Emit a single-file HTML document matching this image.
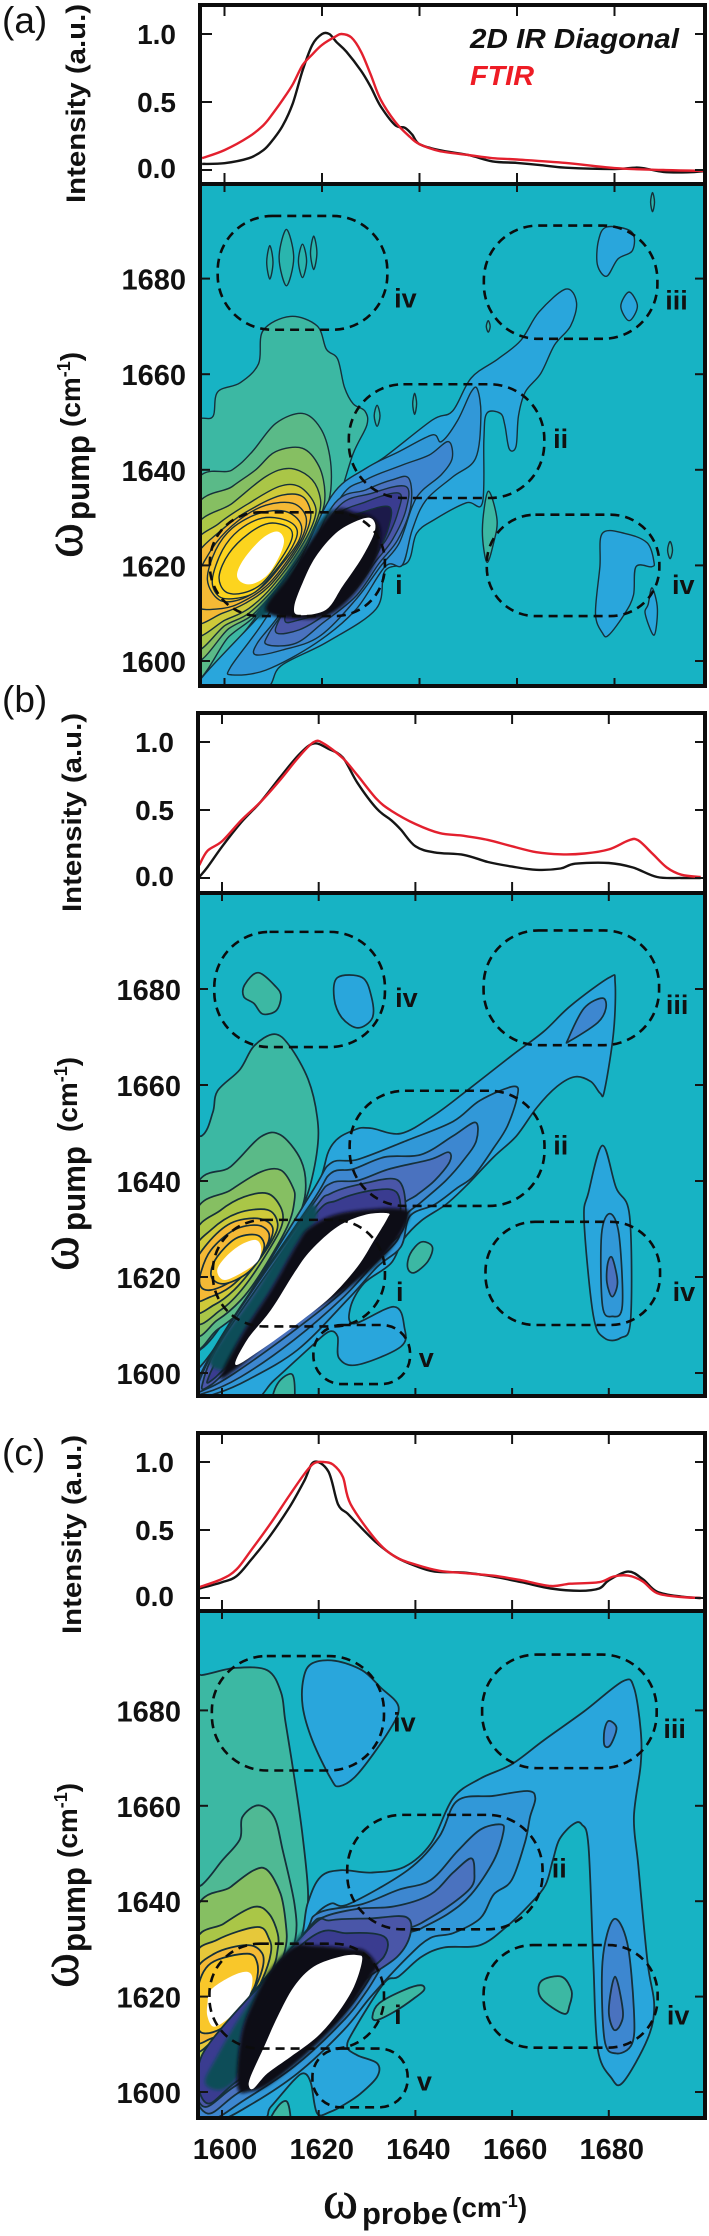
<!DOCTYPE html>
<html lang="en">
<head>
<meta charset="utf-8">
<title>2D IR and FTIR spectra</title>
<style>
html,body{margin:0;padding:0;background:#fff}
svg{display:block}
text{font-family:"Liberation Sans",sans-serif;fill:#111}
.b{font-weight:700}
.o{font-family:"Liberation Serif",serif;stroke:#111;stroke-width:.5}
</style>
</head>
<body>
<svg id="fig" xmlns="http://www.w3.org/2000/svg" width="709" height="2236" viewBox="0 0 709 2236">
<defs><filter id="soft" x="-10%" y="-10%" width="120%" height="120%"><feGaussianBlur stdDeviation="1.7"/></filter></defs>
<rect x="0" y="0" width="709" height="2236" fill="#fff"/>
<g id="panels"></g>

<text x="2" y="33" font-size="37">(a)</text>
<text x="2" y="712" font-size="37">(b)</text>
<text x="2" y="1465" font-size="37">(c)</text>

<text class="b" transform="translate(85,203) rotate(-90)" font-size="27" textLength="199" lengthAdjust="spacingAndGlyphs">Intensity (a.u.)</text>
<text class="b" transform="translate(81,912) rotate(-90)" font-size="27" textLength="199" lengthAdjust="spacingAndGlyphs">Intensity (a.u.)</text>
<text class="b" transform="translate(81,1634) rotate(-90)" font-size="27" textLength="199" lengthAdjust="spacingAndGlyphs">Intensity (a.u.)</text>

<g>
<text class="o" transform="translate(82,558) rotate(-90)" font-size="56" textLength="35" lengthAdjust="spacingAndGlyphs">ω</text>
<text class="b" transform="translate(89,520) rotate(-90)" font-size="32" textLength="85" lengthAdjust="spacingAndGlyphs">pump</text>
<text class="b" transform="translate(80,427) rotate(-90)" font-size="28">(cm<tspan dy="-10" font-size="18">-1</tspan><tspan dy="10">)</tspan></text>
</g>
<g>
<text class="o" transform="translate(78,1271) rotate(-90)" font-size="56" textLength="35" lengthAdjust="spacingAndGlyphs">ω</text>
<text class="b" transform="translate(85,1231) rotate(-90)" font-size="32" textLength="85" lengthAdjust="spacingAndGlyphs">pump</text>
<text class="b" transform="translate(77,1132) rotate(-90)" font-size="28">(cm<tspan dy="-10" font-size="18">-1</tspan><tspan dy="10">)</tspan></text>
</g>
<g>
<text class="o" transform="translate(78,1988) rotate(-90)" font-size="56" textLength="35" lengthAdjust="spacingAndGlyphs">ω</text>
<text class="b" transform="translate(85,1952) rotate(-90)" font-size="32" textLength="85" lengthAdjust="spacingAndGlyphs">pump</text>
<text class="b" transform="translate(77,1858) rotate(-90)" font-size="28">(cm<tspan dy="-10" font-size="18">-1</tspan><tspan dy="10">)</tspan></text>
</g>

<g>
<text class="o" x="323" y="2218" font-size="54" textLength="35" lengthAdjust="spacingAndGlyphs">ω</text>
<text class="b" x="362" y="2224" font-size="31" textLength="86" lengthAdjust="spacingAndGlyphs">probe</text>
<text class="b" x="452" y="2217" font-size="28">(cm<tspan dy="-10" font-size="18">-1</tspan><tspan dy="10">)</tspan></text>
</g>

<g>
<text class="b" x="470" y="48" font-size="28" font-style="italic" textLength="209" lengthAdjust="spacingAndGlyphs">2D IR Diagonal</text>
<text class="b" x="470" y="85" font-size="28" font-style="italic" style="fill:#ee1c25" textLength="64" lengthAdjust="spacingAndGlyphs">FTIR</text>
</g>
</svg>

<script>
/* ---------- axis values ---------- */
const probeTicks = [1600, 1620, 1640, 1660, 1680];
const pumpTicks = [1600, 1620, 1640, 1660, 1680];
const intensityTicks = [0, 0.5, 1];
const intensityTickLabels = ['0.0', '0.5', '1.0'];

/* ---------- 1D spectra: panel a ---------- */
const aDiagProbe = [1595.4,1600,1605,1608,1610,1612,1614,1616,1618,1620,1621.5,1623,1625,1628,1630,1632,1635,1637,1638.5,1640,1644,1650,1655,1660,1665,1670,1680,1685,1690,1695,1699];
const aDiagIntensity = [.045,.05,.087,.146,.226,.33,.49,.73,.92,1,1,.94,.87,.73,.61,.47,.33,.31,.26,.19,.146,.11,.063,.052,.035,.017,.007,.017,-.014,-.017,-.007];
const aFtirProbe = [1595.4,1600,1605,1608,1610,1612,1614,1616,1618,1620,1622.7,1624,1626,1628,1630,1632,1635,1638,1640,1644,1650,1655,1660,1670,1680,1690,1699];
const aFtirIntensity = [.087,.146,.244,.33,.42,.52,.63,.77,.85,.92,.98,1,.975,.87,.7,.52,.355,.244,.19,.14,.11,.087,.077,.052,.014,0,-.007];

/* ---------- 1D spectra: panel b ---------- */
const bDiagProbe = [1595.3,1597,1600,1604,1608,1612,1616,1619,1622,1625,1628,1632,1635,1637,1640,1644,1650,1655,1660,1665,1670,1673,1680,1685,1690,1695,1699];
const bDiagIntensity = [.007,.08,.23,.41,.56,.74,.91,.99,.95,.885,.7,.51,.425,.355,.233,.188,.17,.118,.084,.06,.07,.105,.11,.077,.007,0,0];
const bFtirProbe = [1595.3,1597,1600,1604,1608,1612,1616,1619,1621,1625,1628,1632,1635,1640,1645,1650,1655,1660,1665,1670,1675,1680,1684,1686,1689,1692,1695,1699];
const bFtirIntensity = [.094,.2,.27,.425,.56,.72,.895,1,.99,.88,.756,.58,.495,.397,.33,.31,.28,.233,.19,.174,.18,.21,.275,.279,.18,.077,.024,.007];

/* ---------- 1D spectra: panel c ---------- */
const cDiagProbe = [1595.3,1600,1603,1606,1610,1614,1617,1619,1622,1624,1626,1628,1632,1636,1640,1644,1650,1656,1662,1668,1674,1678,1680,1684,1687,1690,1695,1699];
const cDiagIntensity = [.07,.116,.16,.28,.46,.67,.86,1,.93,.69,.62,.546,.405,.3,.236,.194,.187,.158,.116,.07,.053,.07,.13,.194,.14,.046,.01,0];
const cFtirProbe = [1595.3,1600,1603,1606,1610,1614,1617,1619,1621,1623,1625,1626.6,1632,1636,1640,1645,1650,1656,1662,1668,1672,1678,1681,1684,1687,1690,1695,1699];
const cFtirIntensity = [.08,.14,.21,.35,.546,.757,.91,.99,1,.98,.89,.69,.42,.3,.246,.2,.183,.165,.13,.088,.105,.116,.158,.165,.123,.035,.007,0];

/* ---------- 2D contours: level name + [probe, pump] vertices, in cm-1 ---------- */
const aContours = [
 ['g1',[[1590,1651],[1595.4,1650.8],[1597.7,1651.3],[1598.6,1656.3],[1603.2,1658.2],[1607,1662.2],[1607.9,1669.1],[1613.5,1672.1],[1619,1670.1],[1620.9,1665.2],[1623.2,1663.2],[1624.6,1657.3],[1626.4,1653.8],[1628.8,1652.3],[1629.2,1649.4],[1626.4,1643.4],[1623.2,1633.6],[1619.5,1628.6],[1612,1619],[1606,1608.6],[1595.5,1596.7],[1590,1597]]],
 ['g2',[[1593.4,1635.1],[1601.6,1640],[1605.7,1643.8],[1610.5,1649.7],[1616,1651.8],[1619.7,1648.7],[1621.6,1642.8],[1621.8,1635.8],[1620.4,1630.9],[1617.3,1625.3],[1611.9,1617],[1606.4,1609.6],[1600.9,1605.1],[1593.4,1597.4]]],
 ['g3',[[1593.4,1630.2],[1601.6,1636.5],[1606.4,1640],[1610.5,1643.8],[1616,1644.5],[1619.4,1640.7],[1620.6,1635.1],[1619.7,1630.2],[1616,1622.5],[1610.5,1614.9],[1605.7,1609.6],[1600.9,1606.8],[1593.4,1600.9]]],
 ['g4',[[1593.4,1626.4],[1601.6,1633],[1608.5,1638.6],[1613.2,1640.3],[1617.3,1638.6],[1619.4,1635.1],[1619.4,1630.9],[1616,1623.2],[1610.5,1615.6],[1605,1610],[1600.2,1607.5],[1593.4,1603]]],
 ['g5',[[1593.4,1623.2],[1598.9,1628.8],[1605,1633],[1611.2,1636.5],[1615.3,1636.5],[1618.4,1633],[1618.4,1629.5],[1615.3,1623.2],[1609.8,1615.6],[1605,1611],[1600.2,1608.6],[1593.4,1605.8]]],
 ['g7',[[1593.4,1620.5],[1600.2,1628.1],[1606.4,1632.3],[1611.9,1634.7],[1616,1634.4],[1617.7,1630.9],[1616.7,1626.7],[1613.9,1621.8],[1609.1,1615.6],[1604.3,1612.1],[1599.6,1610],[1593.4,1608.2]]],
 ['g7',[[1594.1,1617],[1598.2,1624.6],[1603,1629.5],[1608.5,1632.6],[1614,1633],[1616.7,1630.2],[1616,1626],[1612.5,1620.4],[1608.5,1615.6],[1603.7,1612.4],[1599.6,1611],[1594.1,1611.4]]],
 ['g8',[[1596.5,1617],[1598.2,1623.2],[1601.6,1627.8],[1607.1,1630.9],[1612.5,1631.3],[1615.6,1628.8],[1615.3,1625.3],[1611.9,1620.4],[1607.8,1615.6],[1603,1612.8],[1598.9,1612.8]]],
 ['g9',[[1597.5,1617],[1599.6,1623.2],[1603,1627.4],[1607.8,1629.9],[1612.5,1629.5],[1614.9,1627.4],[1613.9,1623.9],[1610.5,1619],[1606.4,1614.5],[1602.3,1613.1],[1598.9,1613.5]]],
 ['g9',[[1598.9,1617.7],[1600.9,1622.5],[1605,1626.7],[1609.1,1628.8],[1612.9,1628.1],[1613.9,1626],[1611.9,1621.8],[1607.8,1616.3],[1603.7,1614.2],[1600.2,1614.5]]],
 ['w',[[1602.6,1618.4],[1604.3,1621.8],[1607.8,1625.7],[1610.8,1627.1],[1612.2,1625.3],[1611.2,1621.8],[1608.8,1618],[1605.7,1616.1],[1603.3,1616.6]]],
 ['b1',[[1670,1677.8],[1672.2,1675],[1671,1670.1],[1667.7,1666.1],[1664.9,1660.2],[1661.7,1656.3],[1660.3,1651.3],[1659.8,1644.9],[1658.4,1644.4],[1657.5,1649.4],[1656.6,1651.8],[1653.8,1651.8],[1653.2,1646.4],[1652.9,1633.1],[1649.6,1633.1],[1643.1,1629.6],[1639.4,1626.7],[1637.6,1620.7],[1632.9,1618.8],[1631.1,1610.9],[1620.9,1603.9],[1611.6,1599],[1607.9,1594],[1594.9,1594],[1595.5,1596.7],[1606.4,1608.6],[1612,1615],[1618,1623],[1622.1,1634.4],[1627.6,1639.3],[1633,1642.8],[1642.6,1650.4],[1646.8,1652.3],[1650.6,1659.2],[1656.1,1663.2],[1660.8,1667.1],[1664.5,1673]]],
 ['b2',[[1651.9,1656.8],[1652.6,1651.3],[1651.5,1642.4],[1646.8,1638.5],[1641.3,1633.6],[1638.5,1627.4],[1636.5,1620.1],[1633,1619.8],[1626.9,1610.7],[1618.7,1603.7],[1608.5,1598.1],[1601.6,1597.1],[1601.3,1598.8],[1607.8,1607.9],[1615,1620],[1622.1,1634.7],[1629,1640.3],[1635.8,1643.8],[1642.6,1647.3],[1644.5,1645.9],[1647.8,1650.3],[1650.6,1656.3]]],
 ['b3',[[1645.9,1645.9],[1646.7,1642.4],[1644.5,1639],[1640.4,1635.5],[1638.5,1632.3],[1635.8,1624.6],[1632,1619.8],[1626.9,1612.8],[1619.4,1605.1],[1611.9,1602.3],[1606.4,1601.3],[1606.7,1603.7],[1610.5,1608.6],[1615.3,1615.6],[1623.5,1633.7],[1629,1637.9],[1636.5,1641],[1642,1643.1]]],
 ['b4',[[1637.8,1638.2],[1638.2,1632.3],[1635.5,1625.3],[1631.7,1620.4],[1626.9,1613.5],[1620.1,1607.9],[1614.6,1603.7],[1608.8,1603.4],[1609.1,1605.8],[1613.9,1613.5],[1622.1,1632.3],[1629,1635.8],[1634.4,1637.9]]],
 ['b5',[[1637.2,1636.5],[1637.2,1631.6],[1634.4,1625.3],[1630.7,1620.4],[1626.2,1614.2],[1620.1,1609.3],[1615.3,1606.5],[1610.8,1605.8],[1611.2,1608.6],[1615.3,1615.6],[1622.8,1631.6],[1630.3,1635.1]]],
 ['b6',[[1635.8,1635.1],[1635.5,1630.9],[1633.1,1625.3],[1629.6,1621.1],[1624.9,1614.2],[1619.4,1610],[1615.3,1608.6],[1612.5,1608.2],[1613.2,1611.4],[1616.6,1617],[1622.1,1629.5],[1629,1633.3]]],
 ['b7',[[1633.7,1632.3],[1633.7,1628.1],[1631,1621.8],[1626.9,1615.6],[1621.4,1610.7],[1615.9,1609.6],[1613.9,1610.7],[1615.3,1615.6],[1618,1621.1],[1622.1,1628.8],[1627.6,1630.9]]],
 ['tr',[[1621.1,1631.3],[1615.3,1623.2],[1611.2,1616.3],[1606.4,1610],[1608.5,1609.6],[1612.9,1617],[1617.3,1625.3],[1621.8,1630.6]]],
 ['band',[[1621.8,1630.9],[1612.9,1617.7],[1608.4,1610.7],[1614.6,1608.9],[1621.4,1609.6],[1627,1614.5],[1631,1621],[1632,1627],[1630.5,1630],[1626.9,1631]]],
 ['w',[[1630,1629.9],[1630.9,1627.4],[1628.3,1621.8],[1624.2,1615.6],[1620.8,1610.7],[1615.3,1609.6],[1614.3,1611.4],[1616,1616.3],[1618.7,1621.8],[1622.8,1626.7],[1626.9,1629.2]]],
 ['g0',[[1609.3,1686.9],[1609.95,1683.4],[1609.3,1679.9],[1608.65,1683.4]]],
 ['g0',[[1612.7,1690.3],[1614.2,1684.4],[1612.7,1678.5],[1611.2,1684.4]]],
 ['g0',[[1616,1687.2],[1616.85,1683.7],[1616,1680.2],[1615.15,1683.7]]],
 ['g0',[[1618.3,1688.9],[1618.95,1685.4],[1618.3,1681.9],[1617.65,1685.4]]],
 ['b1',[[1678.4,1690.8],[1683.5,1689.8],[1683.7,1685.9],[1680.7,1684.1],[1678.4,1680.5],[1676.5,1682.9],[1676.7,1687.9]]],
 ['b1',[[1683,1677.2],[1684.7,1674.2],[1683,1671.2],[1681.3,1674.2]]],
 ['g0',[[1654.1,1671.2],[1654.5,1670],[1654.1,1668.8],[1653.7,1670]]],
 ['g0',[[1687.8,1698],[1688.2,1696],[1687.8,1694],[1687.4,1696]]],
 ['g0',[[1639,1656],[1639.4,1653.8],[1639,1651.6],[1638.6,1653.8]]],
 ['g0',[[1631.3,1653.5],[1631.9,1651.3],[1631.3,1649.1],[1630.7,1651.3]]],
 ['g0',[[1691.4,1625],[1691.9,1623.2],[1691.4,1621.4],[1690.9,1623.2]]],
 ['g1',[[1654.1,1635.5],[1655.9,1629.6],[1655.2,1624.7],[1653.8,1620.7],[1652.9,1627.6]]],
 ['b1',[[1677.5,1626.7],[1682.1,1626.7],[1686.7,1624.7],[1688.1,1620.7],[1687.6,1619.7],[1684.4,1619.7],[1683.9,1613.8],[1682.1,1609.9],[1678.8,1605.4],[1677.5,1605.9],[1676.1,1609.9],[1677,1619.7]]],
 ['b1',[[1686.9,1611.8],[1687.7,1615.3],[1688.8,1610.9],[1688.1,1605.4],[1686.3,1609.9]]]
];

const bContours = [
 ['g1',[[1590,1649],[1595.8,1649.4],[1598.1,1654.3],[1599.1,1658.8],[1603.7,1663.2],[1606.6,1668.1],[1610.8,1670.6],[1614,1668.1],[1617.8,1661.2],[1619.7,1653.3],[1619.7,1646.5],[1617.8,1637.6],[1615,1631.7],[1610.3,1623.8],[1602.8,1614],[1595.8,1605.1],[1590,1605]]],
 ['g2',[[1594.2,1637.4],[1601.8,1643],[1608,1649.2],[1612.1,1649.6],[1616.3,1644.4],[1617.3,1638.1],[1615.6,1631.9],[1612.1,1626.3],[1605.9,1615.2],[1599,1609],[1594.2,1606.9]]],
 ['g3',[[1594.2,1632.6],[1601.8,1638.1],[1608,1641.9],[1612.1,1642.3],[1614.6,1638.8],[1615,1636],[1613.5,1630.5],[1608,1620.8],[1603.9,1615.2],[1599,1611],[1594.2,1609]]],
 ['g4',[[1594.2,1628.4],[1599.7,1633.9],[1604.6,1636.7],[1609.4,1637.4],[1612.1,1634.6],[1612.5,1631.2],[1610.1,1626.3],[1604.6,1618],[1599.7,1613.1],[1594.2,1611]]],
 ['g5',[[1594.2,1625],[1597.7,1629.8],[1603.2,1633.3],[1609.4,1634],[1611.5,1631.2],[1610.4,1627.7],[1606.6,1622.1],[1602.5,1617.3],[1598.4,1614.2],[1594.2,1613.1]]],
 ['g7',[[1594.2,1622.1],[1597,1627],[1601.8,1631.2],[1607.3,1632.2],[1610.4,1630.5],[1609.7,1627],[1606.6,1622.8],[1601.8,1618],[1597.7,1615.9],[1594.2,1615.2]]],
 ['g7',[[1595.6,1620.8],[1597.7,1625.6],[1602.5,1629.8],[1607.3,1630.8],[1609.7,1629.1],[1609,1626],[1605.9,1622.1],[1601.8,1619],[1597.7,1617.3],[1595.6,1618]]],
 ['g8',[[1597.7,1620.8],[1599,1624.2],[1602.8,1628],[1607,1628.8],[1608.7,1627],[1608,1624.2],[1605.2,1620.8],[1601.1,1618.7],[1598.7,1619]]],
 ['w',[[1599,1621.4],[1600.8,1624.2],[1603.9,1626.7],[1607,1627.7],[1608.1,1626],[1607.3,1623.2],[1603.9,1620.8],[1600.4,1619.4]]],
 ['b1',[[1680.1,1682.4],[1681.3,1681.4],[1681,1671.1],[1679.1,1658.8],[1678.2,1658.3],[1676.3,1660.7],[1673,1661.7],[1669.3,1659.7],[1665.1,1655.3],[1660.9,1649.4],[1656.2,1645],[1650.6,1639.1],[1646.3,1635.1],[1641.2,1631.7],[1637.5,1627.8],[1634.9,1622.8],[1629.4,1618.7],[1626.6,1613.8],[1627.3,1610.3],[1635.6,1613.8],[1637.7,1609.6],[1637,1605.5],[1628,1601.7],[1624.2,1603.1],[1623.9,1607.6],[1622.1,1608.6],[1618.4,1605.5],[1610.8,1598.5],[1605.2,1593.7],[1590,1594],[1590,1596],[1594.9,1598.5],[1602.5,1609.6],[1618.4,1636],[1622.5,1647.1],[1627.3,1650.6],[1630.8,1651],[1637,1649.9],[1644,1653.8],[1650.6,1658.8],[1659.9,1666.1],[1666.5,1671.1],[1672.1,1676.5]]],
 ['b2',[[1660.4,1659.7],[1661,1657.3],[1659,1651.4],[1656.2,1646.9],[1652,1641],[1648.7,1638.6],[1644,1635.1],[1638.9,1632.7],[1637,1626.3],[1632.1,1622.1],[1625.9,1615.2],[1615.6,1604.8],[1605.2,1598.5],[1599,1595.8],[1594.9,1595],[1590,1597],[1594.9,1600.6],[1601.8,1610.3],[1618.4,1637.4],[1622.5,1643.7],[1628.1,1644.5],[1638.4,1648.5],[1647.8,1652.4],[1653.4,1656.8]]],
 ['b3',[[1652.4,1652.2],[1652.6,1648.4],[1650.1,1644.5],[1646.3,1640.1],[1641.2,1635.6],[1637.9,1632.7],[1636.3,1627.7],[1631.5,1622.8],[1625.2,1615.9],[1614.9,1606.9],[1603.9,1599.2],[1596.3,1595.8],[1594.2,1596.5],[1601.1,1609.6],[1618.4,1635.3],[1622.5,1641.6],[1627.2,1642.5],[1633.7,1645],[1641.2,1645.5],[1647.8,1649.4]]],
 ['b4',[[1646.8,1646],[1647.1,1644],[1644,1640.1],[1640.3,1637.1],[1637,1634.6],[1635.6,1628.4],[1630.8,1623.5],[1624.6,1616.6],[1614.2,1608.3],[1602.5,1599.9],[1597,1596.8],[1594.9,1597.1],[1600.8,1608.9],[1618.4,1634.6],[1622.5,1639.5],[1628.1,1640.1],[1634.6,1642.5],[1643.1,1644.5]]],
 ['b5',[[1638,1634.6],[1637,1629.1],[1630.8,1624.2],[1623.9,1617.3],[1613.5,1609.6],[1601.8,1601],[1597.7,1597.5],[1595.9,1597.5],[1600.4,1607.6],[1618.4,1633.3],[1622.5,1637.4],[1629.4,1639.5],[1636.3,1640.2]]],
 ['b6',[[1636.3,1637.4],[1636.3,1630.5],[1630.8,1625.6],[1623.2,1618],[1612.8,1610.3],[1601.8,1602],[1598.4,1598.9],[1597,1598.5],[1601.1,1606.2],[1618.4,1631.9],[1623.9,1636],[1631.5,1638.1]]],
 ['tr',[[1618.4,1635],[1613,1627],[1607,1617],[1600,1607],[1597.5,1602],[1601,1601],[1604,1607.6],[1610.1,1617.3],[1615.6,1627],[1619.5,1632]]],
 ['band',[[1615.6,1627],[1618.4,1630.5],[1624.6,1633.3],[1635.6,1634.3],[1638.7,1632.6],[1633.5,1624.2],[1624.6,1616.6],[1614.2,1610],[1603.2,1601],[1599.7,1599.2],[1603.9,1607.6],[1610.1,1617.3]]],
 ['w',[[1602.8,1601.7],[1605.2,1606.9],[1610.1,1613.1],[1614.9,1620.8],[1618.4,1625.6],[1623.9,1630.5],[1629.4,1632.9],[1634.2,1633.3],[1634.2,1632.2],[1631.5,1627.7],[1628,1622.1],[1622.5,1615.9],[1615.6,1610.3],[1608,1604.8]]],
 ['g1',[[1604.7,1680.9],[1607.5,1683.4],[1611.2,1680.4],[1612.2,1678.4],[1611.2,1675.5],[1608.4,1674.8],[1606.6,1677],[1604.5,1678.4]]],
 ['b1',[[1623.9,1682.4],[1629,1682.4],[1630.9,1678.4],[1631.1,1674],[1628.1,1671.9],[1624.8,1674],[1623.2,1678]]],
 ['b3',[[1671.6,1669.6],[1674.9,1676],[1678.7,1678.1],[1679.4,1676],[1677.7,1673],[1672,1669.2]]],
 ['b1',[[1678.7,1647.4],[1681.5,1638.6],[1684.3,1632.7],[1684.5,1611],[1682.4,1607.3],[1679.1,1607.3],[1676.8,1612],[1674.9,1631.7],[1675.8,1637.6]]],
 ['b2',[[1680.2,1633.2],[1682.1,1628.8],[1682.8,1614],[1680.7,1611.8],[1678.7,1614],[1678.5,1628.8]]],
 ['b4',[[1680.7,1624],[1681.8,1618.9],[1680.7,1615.9],[1679.6,1618.9],[1679.8,1622.9]]],
 ['g1',[[1638.4,1621.9],[1638.9,1624.8],[1641.2,1627.3],[1643.5,1626.3],[1642.6,1623.3],[1639.8,1620.9]]],
 ['g1',[[1610.4,1593],[1611.5,1597.8],[1614.6,1599.6],[1614.6,1593]]]
];

const cContours = [
 ['g1',[[1590,1687],[1595.8,1687.4],[1602.8,1688.9],[1609.4,1688.4],[1612.2,1683.8],[1613.1,1677.8],[1615,1665.7],[1616.7,1653.5],[1617.8,1641.4],[1616.9,1634.3],[1614,1627.3],[1603.9,1610.2],[1594.9,1601.1],[1590,1601]]],
 ['g1b',[[1590,1640],[1595.8,1643.4],[1600,1648.5],[1603.7,1653],[1604.2,1657.6],[1607.5,1660.1],[1610.8,1657.6],[1612.6,1650.5],[1615,1639.4],[1615.2,1632.3],[1612.6,1625.3],[1603.9,1610.9],[1594.9,1603.2],[1590,1603]]],
 ['g3',[[1594.2,1636.7],[1601.8,1643],[1606.6,1646.5],[1609.4,1646.5],[1612.1,1641.6],[1613.2,1635.3],[1613.2,1630.5],[1611.1,1624.9],[1603.9,1612.3],[1598.4,1608.1],[1594.2,1605.3]]],
 ['g4',[[1594.2,1630.5],[1600.4,1635.3],[1606.6,1638.8],[1609.7,1637.4],[1611.5,1633.3],[1611.5,1629.8],[1610.1,1624.9],[1603.9,1613],[1598.4,1609.5],[1594.2,1607.4]]],
 ['g6',[[1594.2,1627.7],[1599,1631.9],[1607.3,1634.6],[1609.7,1632.2],[1610.1,1629.1],[1608.3,1623.5],[1603.9,1615.1],[1598.4,1610.9],[1594.2,1609.5]]],
 ['g7',[[1594.2,1624.2],[1598.4,1629],[1605.2,1630.8],[1608.3,1629.1],[1608.3,1625.6],[1605.9,1620],[1601.8,1613.7],[1597.7,1611.2],[1594.2,1611.2]]],
 ['g8',[[1594.9,1621.4],[1597.7,1627],[1605.2,1629],[1607.3,1627],[1607,1622.8],[1604.6,1618.6],[1600.4,1613.7],[1596.3,1612.3],[1594.9,1614.4]]],
 ['w',[[1597,1618.6],[1597.7,1621.4],[1601.8,1624.2],[1605.2,1625.2],[1606.3,1623.5],[1605.2,1619.3],[1601.8,1615.8],[1598.4,1613.7],[1597,1615.8]]],
 ['b1',[[1618.7,1689.9],[1623.4,1690.4],[1629,1688.4],[1632.8,1684.8],[1636.5,1680.8],[1634.6,1675.8],[1628.1,1666.7],[1624.3,1664.1],[1622.5,1665.7],[1618.7,1673.7],[1616.7,1680.8],[1616.9,1686.9]]],
 ['b1',[[1682.9,1686.1],[1685.2,1684.8],[1686.6,1675.8],[1686.6,1668.7],[1685.2,1657.6],[1686.1,1647.5],[1688,1627.3],[1689.4,1618.2],[1688,1611.1],[1682.9,1602],[1680.5,1603],[1677.7,1609.1],[1676.8,1627.3],[1675.8,1651.5],[1674.4,1656.1],[1672.6,1656.1],[1669.8,1653],[1668.4,1648.5],[1666.9,1643.4],[1663.7,1639.4],[1659,1634.8],[1653.4,1630.8],[1645.9,1630.3],[1641.2,1628.3],[1636.5,1624.2],[1633.5,1622.8],[1627.3,1613],[1625.9,1609.5],[1628,1607.7],[1632.1,1606],[1632.1,1603.2],[1628.7,1599.7],[1625.2,1597.3],[1622.5,1595.9],[1619.7,1595.5],[1618.4,1601.8],[1617,1603.9],[1614.9,1602.5],[1610.1,1596.9],[1607.3,1594.1],[1590,1594],[1590,1598],[1594.9,1596.9],[1601.8,1608.1],[1614.9,1628.4],[1617.7,1639.5],[1620.4,1645.1],[1624.6,1646.5],[1630.8,1646],[1637.7,1647.2],[1643.2,1652.1],[1647.8,1661.6],[1653.4,1665.7],[1659.9,1668.7],[1666.5,1673.7],[1674.9,1679.8]]],
 ['b2',[[1663.2,1663.1],[1664.8,1661.6],[1663.7,1657.6],[1662.7,1652.5],[1659.9,1644.4],[1656.2,1641.4],[1653.4,1636.4],[1647.8,1633.3],[1643.1,1632.3],[1638.4,1628.3],[1630.8,1620],[1625.2,1613],[1615.6,1603.9],[1605.2,1596.9],[1599,1594.1],[1590,1594],[1594.2,1598.3],[1601.1,1609.5],[1615.6,1630.5],[1619,1636.7],[1622.5,1639.5],[1626.2,1639.4],[1638.4,1646.5],[1644.9,1653.5],[1648.7,1661.1],[1656.2,1662.1]]],
 ['b3',[[1657.6,1656.1],[1658.2,1654.5],[1656.2,1648.5],[1651.5,1641.4],[1646.8,1637.4],[1641.2,1634.3],[1636.5,1631.8],[1630.1,1621.4],[1624.6,1614.4],[1614.9,1605.3],[1604.6,1598.3],[1597.7,1594.1],[1590,1594],[1594.2,1600.4],[1600.4,1610.2],[1616.3,1631.9],[1619.7,1637.4],[1629,1639.4],[1636.5,1642.4],[1643.1,1644.4],[1648.7,1650.5],[1653.4,1655]]],
 ['b4',[[1651.5,1649],[1652.2,1646],[1651.5,1642.9],[1646.8,1638.9],[1641.2,1635.4],[1635.6,1632.3],[1629.4,1622],[1623.9,1615.1],[1614.2,1606.7],[1603.2,1599.7],[1597,1595.5],[1594.2,1601.8],[1599.7,1610.9],[1617,1633.3],[1621.1,1636.7],[1628.1,1638.4],[1635.6,1638.9],[1643.1,1641.4],[1647.8,1646]]],
 ['b5',[[1638,1636.7],[1639,1633.3],[1636.3,1628.4],[1628.7,1622.8],[1623.2,1615.8],[1613.5,1608.1],[1602.5,1601.1],[1596.3,1596.9],[1594.6,1603.2],[1599,1611.6],[1617.7,1633.9],[1622.5,1636],[1630.8,1636.4]]],
 ['b6',[[1633.5,1632.6],[1633.5,1628.4],[1628,1623.5],[1622.5,1616.5],[1612.8,1609.5],[1602.5,1601.8],[1597,1597.6],[1594.9,1603.9],[1599,1612.3],[1617.7,1631.9],[1625.9,1633.3]]],
 ['tr',[[1617,1634],[1611,1626.5],[1604.5,1617],[1599,1607.5],[1596.5,1602],[1600,1600.5],[1603.5,1604],[1604,1612],[1607,1619],[1611,1626],[1615.5,1631]]],
 ['band',[[1614.9,1630.5],[1619,1630.7],[1625.9,1630.1],[1629.5,1629.6],[1632.1,1626.3],[1630.8,1624.2],[1625.2,1615.8],[1617.7,1608.1],[1610.1,1601.8],[1605.9,1600.1],[1603.2,1601],[1603.9,1611.6],[1606.3,1618.6],[1610,1625.6]]],
 ['w',[[1605.6,1601.1],[1605.9,1603.2],[1608.7,1609.5],[1611.5,1615.8],[1614.9,1622.1],[1619,1626.3],[1624.6,1628.4],[1628,1628.7],[1629,1627.7],[1627.3,1622.1],[1623.9,1616.5],[1619.7,1611.6],[1614.2,1607.4],[1609.4,1603.9],[1606.6,1600.8]]],
 ['b3',[[1680,1677.8],[1681.6,1676.3],[1680.3,1672.7],[1679.1,1672.7],[1679.1,1675.8]]],
 ['g1',[[1666,1623.2],[1670.2,1624.2],[1672.3,1621.2],[1671.9,1618.2],[1670.7,1616.4],[1666,1619.7]]],
 ['g1',[[1631.1,1615.8],[1632.5,1618.6],[1637.7,1621.4],[1641.1,1622.4],[1641.8,1621.4],[1639.7,1619.6],[1635.6,1616.8],[1632.1,1615.1]]],
 ['g1',[[1609.7,1593],[1611.5,1596.9],[1613.5,1597.9],[1613.9,1593]]],
 ['b3',[[1681,1636.2],[1683.8,1631.3],[1685.2,1617.2],[1684.8,1610.1],[1681.5,1608.1],[1679.1,1611.1],[1678.7,1627.3]]],
 ['b4',[[1681.3,1624.2],[1682.9,1617.2],[1682.4,1614.1],[1681,1613.1],[1680,1617.2]]]
];

/* ---------- dashed regions: probe min, probe max, pump min, pump max ---------- */
const aRegions = [[1598.6,1633.4,1669.3,1693.1],[1653.2,1688.8,1667.4,1691.1],[1625.5,1665.6,1634.1,1657.9],[1597,1632.9,1609.4,1631.1],[1653.8,1689.2,1609.4,1630.6]];
const bRegions = [[1598.4,1633.7,1667.9,1691.9],[1654.1,1690.4,1668.3,1692.2],[1626.4,1666.7,1634.8,1658.8],[1598.1,1633.7,1609.7,1631.9],[1654.5,1690.6,1610,1631.5],[1618.9,1638.9,1597.7,1610]];
const cRegions = [[1597.9,1633.5,1667.4,1691.4],[1653.8,1689.9,1667.9,1691.7],[1625.9,1666.3,1634.1,1658.1],[1597.4,1633.5,1609.1,1631.1],[1654.1,1690.1,1609.3,1630.8],[1618.7,1638.4,1596.8,1609.1]];

const aRegionNames = ['iv','iii','ii','i','iv'];
const aRegionNameProbe = [1634.8,1690.4,1667.4,1635,1691.8];
const aRegionNamePump = [1674,1673.5,1644.6,1614,1614];
const bRegionNames = ['iv','iii','ii','i','iv','v'];
const bRegionNameProbe = [1635.8,1691.8,1668.5,1636,1693.2,1640.7];
const bRegionNamePump = [1676.2,1674.8,1645.5,1615,1615,1601.2];
const cRegionNames = ['iv','iii','ii','i','iv','v'];
const cRegionNameProbe = [1635.4,1691.3,1668.2,1635.6,1692,1640.3];
const cRegionNamePump = [1675.6,1674.2,1645,1614.3,1614.1,1600.3];

/* ---------- colour for each contour level ---------- */
const levelFill = {
 g0:'#2ab5ae', g1:'#3cb8a3', g1b:'#4fb994', g2:'#5aba88', g3:'#86bf62', g4:'#aac647', g5:'#cfca39', g6:'#e6c83a', g7:'#f4b935', g8:'#f9c72a', g9:'#fcd41e',
 b1:'#29a6dc', b2:'#3198d8', b3:'#3d87d0', b4:'#4a72bf', b5:'#4a56a8', b6:'#3a3c90', b7:'#1c1a4a', tr:'#0f4d58', band:'#080812', w:'#ffffff'
};

const NS = 'http://www.w3.org/2000/svg';
const root = document.getElementById('panels');

function add(tag, attrs, parent) {
  const el = document.createElementNS(NS, tag);
  for (const k in attrs) el.setAttribute(k, attrs[k]);
  parent.appendChild(el);
  return el;
}

function smoothPath(pts, closed) {
  const n = pts.length;
  const at = i => closed ? pts[(i + n) % n] : pts[Math.max(0, Math.min(n - 1, i))];
  let d = 'M' + pts[0][0].toFixed(1) + ' ' + pts[0][1].toFixed(1);
  const last = closed ? n : n - 1;
  for (let i = 0; i < last; i++) {
    const p0 = at(i - 1), p1 = at(i), p2 = at(i + 1), p3 = at(i + 2);
    const c1x = p1[0] + (p2[0] - p0[0]) / 6, c1y = p1[1] + (p2[1] - p0[1]) / 6;
    const c2x = p2[0] - (p3[0] - p1[0]) / 6, c2y = p2[1] - (p3[1] - p1[1]) / 6;
    d += 'C' + c1x.toFixed(1) + ' ' + c1y.toFixed(1) + ' ' + c2x.toFixed(1) + ' ' + c2y.toFixed(1) + ' ' + p2[0].toFixed(1) + ' ' + p2[1].toFixed(1);
  }
  return closed ? d + 'Z' : d;
}

function drawPanel(id, box, spec) {
  const X = p => box.x1600 + (p - 1600) * box.sx;
  const YI = v => box.i0 - v * box.iScale;
  const YP = q => box.p1600 - (q - 1600) * box.pScale;

  const g = add('g', {}, root);
  
  

  /* plot areas */
  const top = add('rect', {x: box.L, y: box.T, width: box.R - box.L, height: box.M - box.T, fill: '#fff'}, g);
  
  
  const map = add('rect', {x: box.L, y: box.M, width: box.R - box.L, height: box.B - box.M, fill: '#17b3c4'}, g);
  
  

  const cp = add('clipPath', {id: 'clip-' + id}, g);
  add('rect', {x: box.L, y: box.M, width: box.R - box.L, height: box.B - box.M}, cp);
  const cp2 = add('clipPath', {id: 'clip-top-' + id}, g);
  add('rect', {x: box.L, y: box.T, width: box.R - box.L, height: box.M - box.T}, cp2);

  /* contours */
  const contourGroup = add('g', {'clip-path': 'url(#clip-' + id + ')'}, g);
  
  
  spec.contours.forEach(function (c, i) {
    const pts = c[1].map(v => [X(v[0]), YP(v[1])]);
    const isWhite = c[0] === 'w', isSoft = c[0] === 'band' || c[0] === 'tr';
    const path = add('path', {
      d: smoothPath(pts, true),
      fill: levelFill[c[0]],
      stroke: isWhite || isSoft ? 'none' : '#16303a',
      'stroke-width': box.lw,
      'stroke-linejoin': 'round'
    }, contourGroup);
    if (isSoft) path.setAttribute('filter', 'url(#soft)');
    
    
  });

  /* dashed regions */
  spec.regions.forEach(function (r, i) {
    const x = X(r[0]), w = X(r[1]) - x, y = YP(r[3]), h = YP(r[2]) - y;
    const box2 = add('rect', {x: x, y: y, width: w, height: h, rx: h * 0.48, ry: h * 0.48, fill: 'none', stroke: '#0c0c0c', 'stroke-width': 2.6, 'stroke-dasharray': '9 6'}, g);
    
    
    const t = add('text', {x: X(spec.nameProbe[i]), y: YP(spec.namePump[i]), 'font-size': 27, 'font-weight': 700}, g);
    t.textContent = spec.names[i];
    
    
  });

  /* spectra */
  const lineGroup = add('g', {'clip-path': 'url(#clip-top-' + id + ')', fill: 'none'}, g);
  
  
  const diag = add('path', {d: smoothPath(spec.diagProbe.map((p, i) => [X(p), YI(spec.diagI[i])]), false), stroke: '#151515', 'stroke-width': 2.4}, lineGroup);
  
  
  const ftir = add('path', {d: smoothPath(spec.ftirProbe.map((p, i) => [X(p), YI(spec.ftirI[i])]), false), stroke: '#e3202e', 'stroke-width': 2.4}, lineGroup);
  
  

  /* ticks */
  const ticks = add('g', {stroke: '#141414', 'stroke-width': 2}, g);
  
  
  probeTicks.forEach(function (p) {
    add('line', {x1: X(p), x2: X(p), y1: box.T, y2: box.T + 11}, ticks);
    add('line', {x1: X(p), x2: X(p), y1: box.M, y2: box.M - 11}, ticks);
    add('line', {x1: X(p), x2: X(p), y1: box.M, y2: box.M + 8}, ticks);
    add('line', {x1: X(p), x2: X(p), y1: box.B, y2: box.B - 8}, ticks);
  });
  intensityTicks.forEach(function (v, i) {
    add('line', {x1: box.L, x2: box.L + 12, y1: YI(v), y2: YI(v)}, ticks);
    add('line', {x1: box.R, x2: box.R - 10, y1: YI(v), y2: YI(v)}, ticks);
    const t = add('text', {x: box.L - 24, y: YI(v) + (i === 0 ? 8 : 10), 'font-size': 28, 'font-weight': 700, 'text-anchor': 'end', stroke: 'none'}, g);
    t.textContent = intensityTickLabels[i];
    
    
  });
  pumpTicks.forEach(function (q, i) {
    add('line', {x1: box.L, x2: box.L + 10, y1: YP(q), y2: YP(q)}, ticks);
    add('line', {x1: box.R, x2: box.R - 10, y1: YP(q), y2: YP(q)}, ticks);
    const t = add('text', {x: box.L - box.pumpGap, y: YP(q) + 11, 'font-size': 29, 'font-weight': 700, 'text-anchor': 'end'}, g);
    t.textContent = String(q);
    
    
  });

  /* frames */
  const f1 = add('rect', {x: box.L, y: box.T, width: box.R - box.L, height: box.M - box.T, fill: 'none', stroke: '#0c0c0c', 'stroke-width': 4}, g);
  
  
  const f2 = add('rect', {x: box.L, y: box.M, width: box.R - box.L, height: box.B - box.M, fill: 'none', stroke: '#0c0c0c', 'stroke-width': 4}, g);
  
  

  return X;
}

drawPanel('a',
  {L: 200, R: 705, T: 5, M: 184, B: 686, x1600: 224.5, sx: 4.875, i0: 170, iScale: 136, p1600: 661, pScale: 4.78, lw: 1.4, pumpGap: 14},
  {contours: aContours, regions: aRegions, names: aRegionNames, nameProbe: aRegionNameProbe, namePump: aRegionNamePump,
   diagProbe: aDiagProbe, diagI: aDiagIntensity, ftirProbe: aFtirProbe, ftirI: aFtirIntensity});

drawPanel('b',
  {L: 198, R: 705, T: 713, M: 893, B: 1396, x1600: 222, sx: 4.835, i0: 878, iScale: 136, p1600: 1373, pScale: 4.8, lw: 1.7, pumpGap: 17},
  {contours: bContours, regions: bRegions, names: bRegionNames, nameProbe: bRegionNameProbe, namePump: bRegionNamePump,
   diagProbe: bDiagProbe, diagI: bDiagIntensity, ftirProbe: bFtirProbe, ftirI: bFtirIntensity});

const xC = drawPanel('c',
  {L: 198, R: 705, T: 1433, M: 1611, B: 2118, x1600: 222, sx: 4.835, i0: 1598, iScale: 136, p1600: 2092, pScale: 4.77, lw: 1.8, pumpGap: 17},
  {contours: cContours, regions: cRegions, names: cRegionNames, nameProbe: cRegionNameProbe, namePump: cRegionNamePump,
   diagProbe: cDiagProbe, diagI: cDiagIntensity, ftirProbe: cFtirProbe, ftirI: cFtirIntensity});

probeTicks.forEach(function (p, i) {
  const t = add('text', {x: xC(p) + 3, y: 2159, 'font-size': 29, 'font-weight': 700, 'text-anchor': 'middle'}, root);
  t.textContent = String(p);
  
  
});
</script>
</body>
</html>
